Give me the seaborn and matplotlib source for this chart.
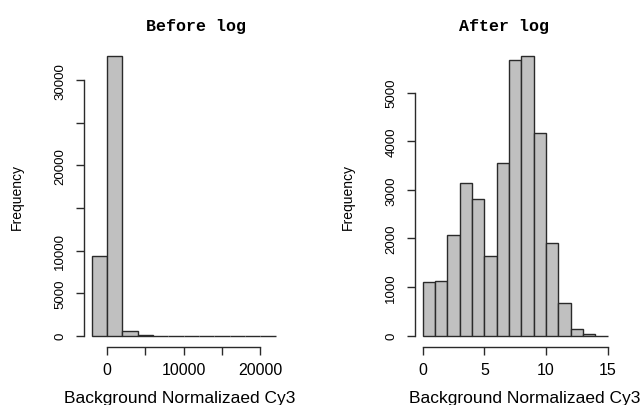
import numpy as np
import pandas as pd
import matplotlib
matplotlib.use("Agg")
import matplotlib.pyplot as plt
import seaborn as sns

# bin edges and counts
before_edges = [-2000, 0, 2000, 4000, 6000, 8000, 10000, 12000, 14000, 16000, 18000, 20000, 22000]
before_counts = [9400, 32850, 600, 110, 15, 5, 2, 0, 0, 0, 0, 0]

after_edges = [0, 1, 2, 3, 4, 5, 6, 7, 8, 9, 10, 11, 12, 13, 14, 15]
after_counts = [1100, 1130, 2070, 3150, 2810, 1630, 3550, 5670, 5750, 4160, 1900, 670, 140, 35, 0]

before_xticks = [0, 5000, 10000, 15000, 20000]
before_xlabels = ["0", "", "10000", "", "20000"]
before_yticks = [0, 5000, 10000, 15000, 20000, 25000, 30000]
before_ylabels = ["0", "5000", "10000", "", "20000", "", "30000"]

after_xticks = [0, 5, 10, 15]
after_yticks = [0, 1000, 2000, 3000, 4000, 5000]

sns.set_style("white")
plt.rcParams['font.family'] = ['Liberation Sans', 'DejaVu Sans']
plt.rcParams['text.color'] = 'black'
plt.rcParams['axes.labelcolor'] = 'black'
plt.rcParams['xtick.color'] = '#2a2a2a'
plt.rcParams['ytick.color'] = '#2a2a2a'

fig = plt.figure(figsize=(6.4, 4.06), dpi=100)
ax1 = fig.add_axes([0.132, 0.143, 0.310, 0.744])
ax2 = fig.add_axes([0.649, 0.143, 0.312, 0.744])


def r_hist(ax, edges, counts, xticks, xlabels, yticks, ylabels, title, tx, lx):
    e = np.array(edges, dtype=float)
    df = pd.DataFrame({"mid": (e[:-1] + e[1:]) / 2,
                       "count": np.array(counts, dtype=float)})
    sns.histplot(data=df, x="mid", weights="count", bins=list(edges), ax=ax, color="#c0c0c0",
                 edgecolor="#2a2a2a", linewidth=1.0, alpha=1)
    span = e[-1] - e[0]
    ax.set_xlim(e[0] - 0.04 * span, e[-1] + 0.04 * span)
    top = max(counts)
    ax.set_ylim(-0.04 * top, top * 1.04)

    for s in ["top", "right"]:
        ax.spines[s].set_visible(False)
    ax.spines["left"].set_bounds(yticks[0], yticks[-1])
    ax.spines["bottom"].set_bounds(xticks[0], xticks[-1])
    for s in ["left", "bottom"]:
        ax.spines[s].set_linewidth(1.0)
        ax.spines[s].set_color("#2a2a2a")

    ax.set_xticks(xticks)
    ax.set_xticklabels(xlabels, fontsize=11.5, color="black")
    ax.set_yticks(yticks)
    ax.set_yticklabels(ylabels, fontsize=9.5, rotation=90, va="center", color="black")
    ax.tick_params(axis="both", direction="out", length=6, width=1.0,
                   bottom=True, left=True, color="#2a2a2a")
    ax.tick_params(axis="x", pad=5)
    ax.tick_params(axis="y", pad=7)

    ax.set_title(title, x=tx, y=1.065, va="center", pad=0, fontsize=12,
                 fontweight="bold", family=["Liberation Mono", "DejaVu Sans Mono"])
    ax.set_ylabel("Frequency", fontsize=10)
    ax.yaxis.label.set_va("center")
    ax.yaxis.set_label_coords(-0.34, 0.5)
    ax.set_xlabel("Background Normalizaed Cy3", fontsize=12.5)
    ax.xaxis.label.set_va("center")
    ax.xaxis.set_label_coords(lx, -0.166)


r_hist(ax1, before_edges, before_counts, before_xticks, before_xlabels,
       before_yticks, before_ylabels, "Before log", 0.563, 0.482)
r_hist(ax2, after_edges, after_counts, after_xticks, [str(t) for t in after_xticks],
       after_yticks, [str(t) for t in after_yticks], "After log", 0.443, 0.55)

fig.savefig("out.png", dpi=100)
